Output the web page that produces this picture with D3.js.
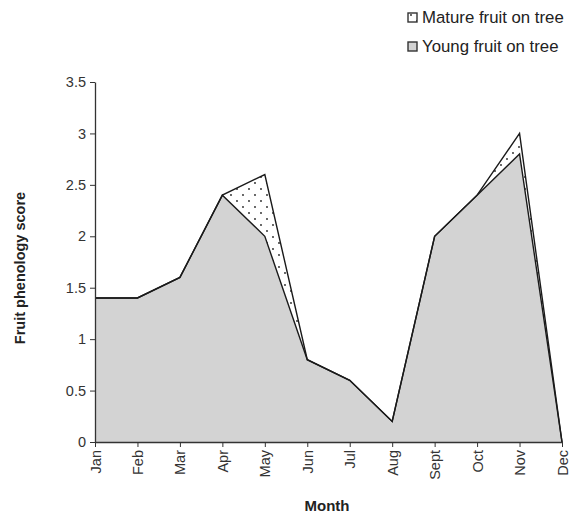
<!DOCTYPE html>
<html>
<head>
<meta charset="utf-8">
<script src="https://cdn.jsdelivr.net/npm/d3@7"></script>
<style>
  html, body { margin: 0; padding: 0; background: #fff; }
  svg { display: block; font-family: Arial, "Liberation Sans", sans-serif; }
</style>
</head>
<body>
<svg id="chart" width="570" height="518"></svg>
<script>
// Monthly fruit phenology scores (stacked: young + mature)
const months = ["Jan", "Feb", "Mar", "Apr", "May", "Jun", "Jul", "Aug", "Sept", "Oct", "Nov", "Dec"];
const youngFruit = [1.4, 1.4, 1.6, 2.4, 2.0, 0.8, 0.6, 0.2, 2.0, 2.4, 2.8, 0];
const matureFruit = [0, 0, 0, 0, 0.6, 0, 0, 0, 0, 0, 0.2, 0];
const yTicks = [0, 0.5, 1, 1.5, 2, 2.5, 3, 3.5];
const seriesNames = ["Mature fruit on tree", "Young fruit on tree"];

const svg = d3.select("#chart");
const margin = { left: 95 };

const x = d3.scalePoint().domain(months).range([margin.left, 562]);
const y = d3.scaleLinear().domain([0, 3.5]).range([442, 82]);

const rows = months.map((m, i) => ({ month: m, young: youngFruit[i], mature: matureFruit[i] }));
const layers = d3.stack().keys(["young", "mature"])(rows);

// dotted fill for the mature-fruit layer
const defs = svg.append("defs");
const pat = defs.append("pattern")
  .attr("id", "dots").attr("patternUnits", "userSpaceOnUse")
  .attr("width", 12).attr("height", 12);
pat.append("rect").attr("width", 12).attr("height", 12).attr("fill", "#fff");
pat.append("circle").attr("cx", 3).attr("cy", 3).attr("r", 0.9).attr("fill", "#222");
pat.append("circle").attr("cx", 9).attr("cy", 9).attr("r", 0.9).attr("fill", "#222");

const area = d3.area()
  .x(d => x(d.data.month))
  .y0(d => y(d[0]))
  .y1(d => y(d[1]));
const line = d3.line()
  .x(d => x(d.data.month))
  .y(d => y(d[1]));

const fills = { young: "#d3d3d3", mature: "url(#dots)" };

svg.append("g").selectAll("path.area")
  .data(layers)
  .join("path")
  .attr("class", "area")
  .attr("d", area)
  .attr("fill", d => fills[d.key])
  .attr("stroke", "none");

svg.append("g").selectAll("path.top")
  .data(layers)
  .join("path")
  .attr("class", "top")
  .attr("d", line)
  .attr("fill", "none")
  .attr("stroke", "#1a1a1a")
  .attr("stroke-width", 1.4)
  .attr("stroke-linejoin", "miter");

// Y axis
const yAxis = d3.axisLeft(y).tickValues(yTicks).tickSize(5).tickSizeOuter(0)
  .tickFormat(d => d3.format("")(d));
const gy = svg.append("g").attr("transform", `translate(${margin.left},0)`).call(yAxis);
gy.select(".domain").attr("stroke", "#333").attr("stroke-width", 1.3);
gy.selectAll(".tick line").attr("stroke", "#333");
gy.selectAll(".tick text").attr("font-size", 14.5).attr("fill", "#333").attr("x", -9);

// X axis
const xAxis = d3.axisBottom(x).tickSize(5).tickSizeOuter(0);
const gx = svg.append("g").attr("transform", `translate(0,442)`).call(xAxis);
gx.select(".domain").attr("stroke", "#333").attr("stroke-width", 1.3);
gx.selectAll(".tick line").attr("stroke", "#333");
gx.selectAll(".tick text")
  .attr("font-size", 14.5).attr("fill", "#333")
  .attr("transform", "rotate(-90)")
  .attr("text-anchor", "end")
  .attr("x", -8).attr("y", 0).attr("dy", "0.35em");

// Axis titles
svg.append("text")
  .attr("transform", "translate(20,268) rotate(-90)")
  .attr("text-anchor", "middle").attr("dy", "0.35em")
  .attr("font-size", 14.5).attr("font-weight", "bold").attr("fill", "#222")
  .text("Fruit phenology score");
svg.append("text")
  .attr("x", 327).attr("y", 511)
  .attr("text-anchor", "middle")
  .attr("font-size", 15).attr("font-weight", "bold").attr("fill", "#222")
  .text("Month");

// Legend
const legend = svg.append("g");
const legendFills = ["url(#dots)", "#d3d3d3"];
seriesNames.forEach((name, i) => {
  const ly = 17 + i * 29;
  legend.append("rect")
    .attr("x", 408).attr("y", ly - 4).attr("width", 9).attr("height", 9)
    .attr("fill", legendFills[i]).attr("stroke", "#333").attr("stroke-width", 1.4);
  legend.append("text")
    .attr("x", 422).attr("y", ly).attr("dy", "0.35em")
    .attr("font-size", 16.8).attr("fill", "#222")
    .text(name);
});
</script>
</body>
</html>
